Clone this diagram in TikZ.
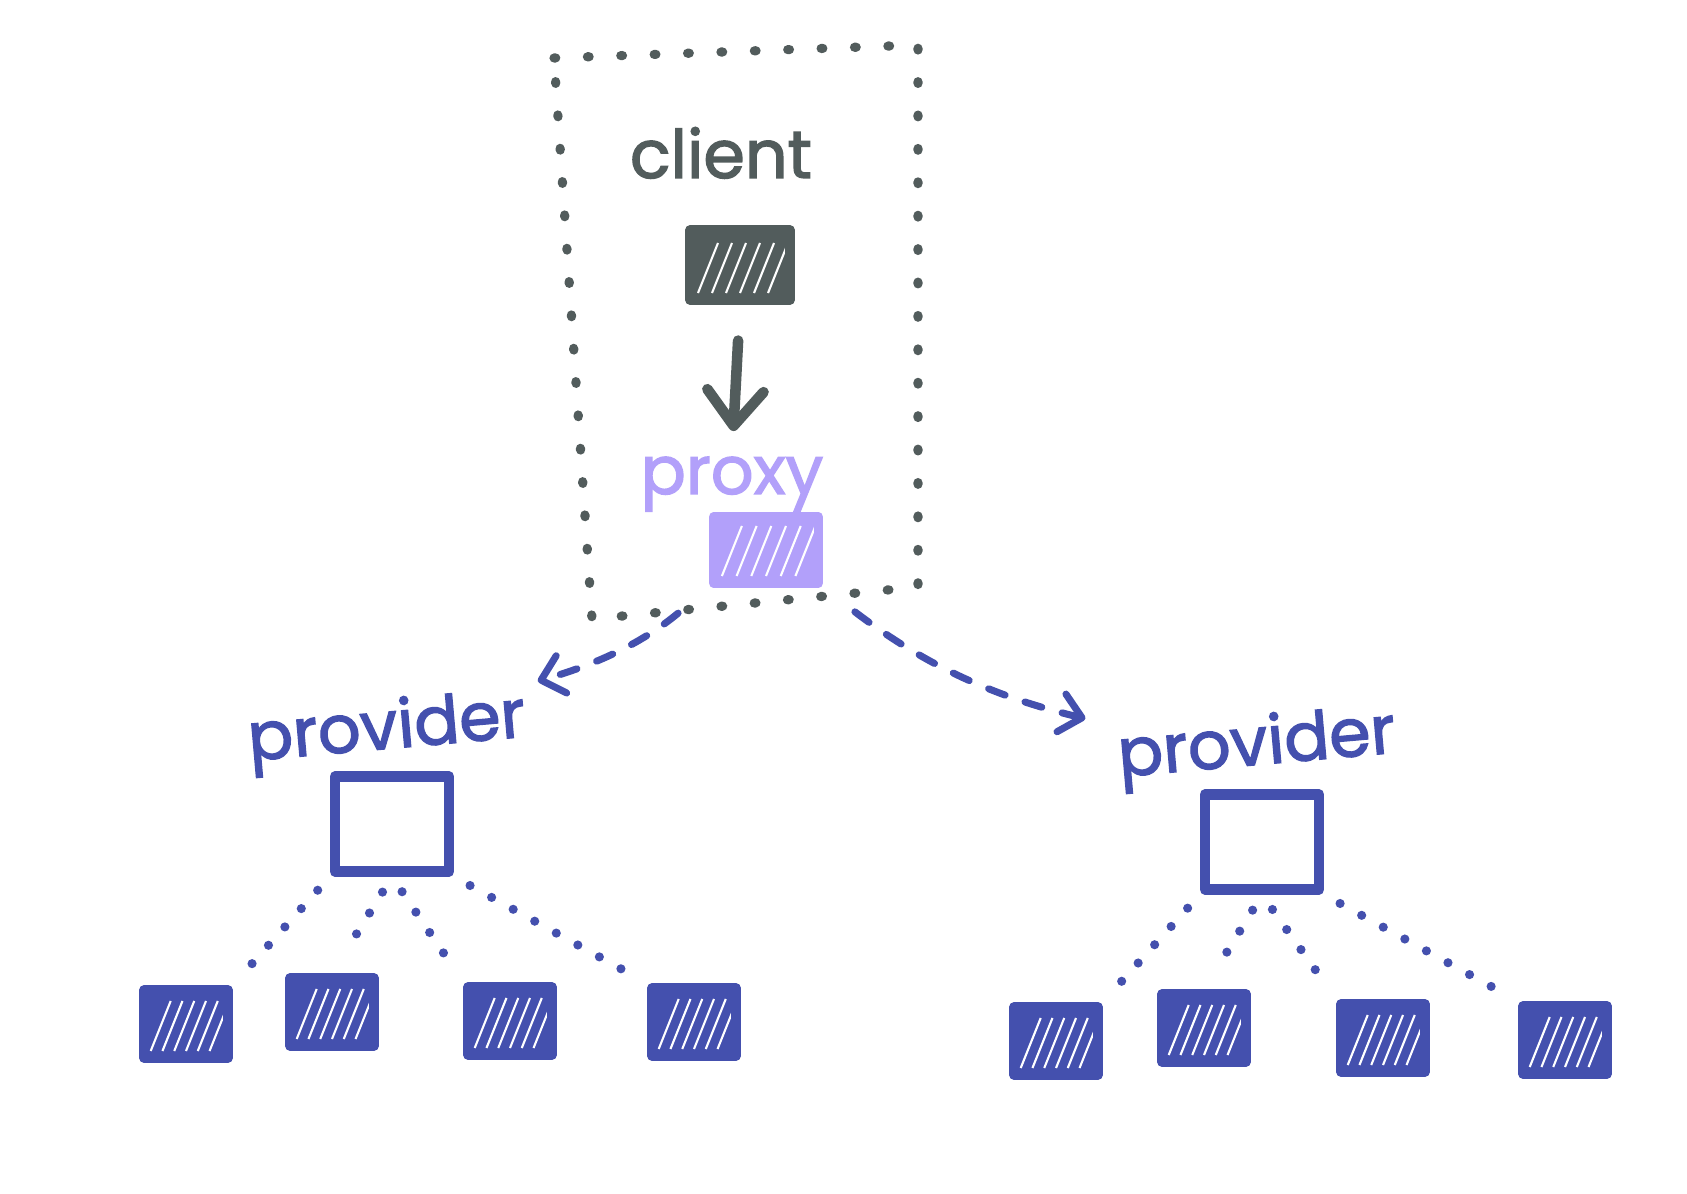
\documentclass[tikz,border=0pt]{standalone}
\usepackage{fontspec}
\setmainfont{Poppins}
\newfontfamily\handfont{Poppins}[FakeBold=2]
\usepackage{tikz}
\usetikzlibrary{positioning,arrows.meta,calc}
\definecolor{clientgray}{RGB}{82,92,92}
\definecolor{proxypurple}{RGB}{178,160,250}
\definecolor{provblue}{RGB}{68,80,174}
% white streaks over a filled box
\newcommand{\hatchfill}{%
  \foreach \t in {0.08,0.22,0.36,0.5,0.64,0.78}
    \draw[white, line width=0.6pt]
      ($(path picture bounding box.south west)!\t!(path picture bounding box.south east)+(0,0.07cm)$)
      -- ++(0.2cm,0.5cm);}
\tikzset{
  handtext/.style={font=\handfont\fontsize{19}{22}\selectfont, inner sep=0pt},
  leaf/.style={draw=provblue, fill=provblue, line width=2.6pt, line join=round,
    minimum width=0.84cm, minimum height=0.68cm, inner sep=0pt, path picture={\hatchfill}},
  parent/.style={draw=provblue, line width=3pt, line join=round,
    minimum width=1.14cm, minimum height=0.95cm, inner sep=0pt},
  spoke/.style={provblue, line width=2.6pt, line cap=round, dash pattern=on 0pt off 7pt,
    shorten <=0.18cm, shorten >=0.22cm},
  flow/.style={provblue, line width=2pt, line cap=round, dash pattern=on 5pt off 6pt,
    -{Straight Barb[length=6pt,width=11pt,round]}}
}
\begin{document}
\begin{tikzpicture}[x=0.01cm, y=-0.01cm]
  \useasboundingbox[fill=white] (0,0) rectangle (1687,1194);
  % client side frame
  \draw[clientgray, line width=2.6pt, line cap=round, dash pattern=on 0.5pt off 9pt]
    (554,58) -- (918,45) -- (918,587) -- (592,619) -- cycle;
  \node[handtext, text=clientgray, anchor=base] (ct) at (721,178) {client};
  \node[draw=clientgray, fill=clientgray, line width=2.6pt, line join=round, minimum width=1.0cm,
    minimum height=0.7cm, inner sep=0pt, path picture={\hatchfill}] (cb) at (740,265) {};
  \node[handtext, text=proxypurple, anchor=base] (pt) at (732,494) {proxy};
  \node[draw=proxypurple, fill=proxypurple, line width=2.6pt, line join=round, minimum width=1.05cm,
    minimum height=0.66cm, inner sep=0pt, path picture={\hatchfill}] (px) at (766,550) {};
  \draw[clientgray, line width=3pt, line cap=round, shorten <=0.36cm, shorten >=0.25cm,
    -{Straight Barb[length=10pt,width=16pt,round]}] (cb.south) -- (pt.north);
  % providers
  \node[handtext, text=provblue, rotate=5] (tl) at (387,732) {provider};
  \node[handtext, text=provblue, rotate=5] (tr) at (1257,748) {provider};
  \node[parent] (pl) at (392,824) {};
  \node[parent] (pr) at (1262,842) {};
  \draw[flow, shorten <=0.4cm, shorten >=0.15cm] (px.south west) to[bend left=12] (tl.north east);
  \draw[flow, shorten <=0.4cm, shorten >=0.3cm] (px.south east) to[bend right=12] (tr.north west);
  % leaves
  \foreach \n/\x/\y in {1/186/1024, 2/332/1012, 3/510/1021, 4/694/1022}
    \node[leaf] (l\n) at (\x,\y) {};
  \foreach \n/\x/\y in {1/1056/1041, 2/1204/1028, 3/1383/1038, 4/1565/1040}
    \node[leaf] (r\n) at (\x,\y) {};
  \foreach \p/\s in {l/pl, r/pr} {
    \draw[spoke] (\s.south west) -- (\p1.north east);
    \draw[spoke] (\s.south) -- (\p2.north);
    \draw[spoke] (\s.south) -- (\p3.north west);
    \draw[spoke] (\s.south east) -- (\p4.north west);
  }
\end{tikzpicture}
\end{document}
